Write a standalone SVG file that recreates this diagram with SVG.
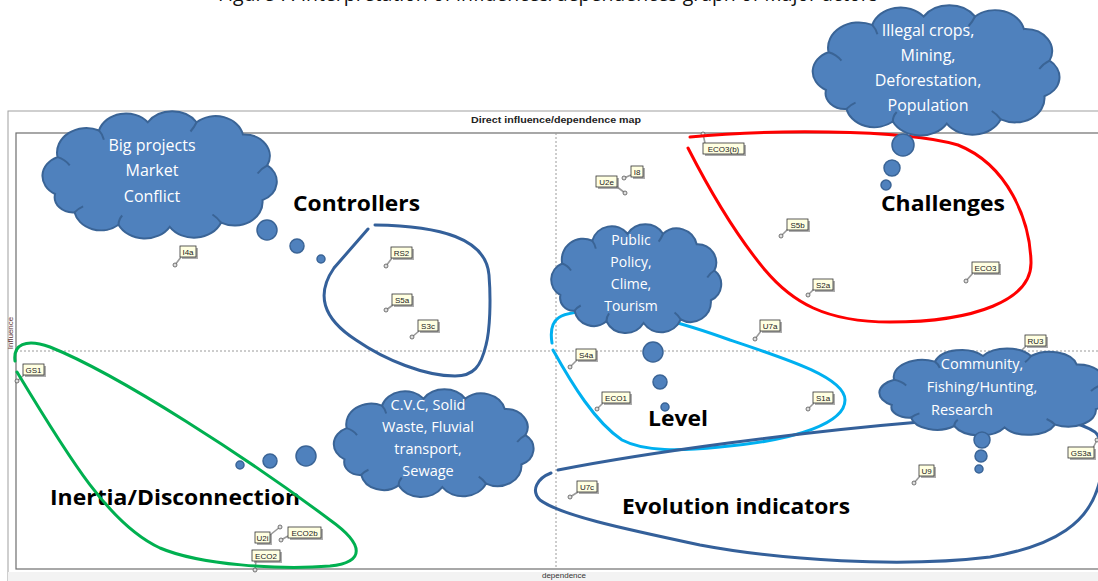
<svg xmlns="http://www.w3.org/2000/svg" xmlns:xlink="http://www.w3.org/1999/xlink" width="1098" height="581" viewBox="0 0 1098 581">
  <style>
    .cl { fill: #4F81BD; stroke: #3A6496; stroke-width: 2; vector-effect: non-scaling-stroke; }
    .cl-in { fill: none; stroke: #3A6496; stroke-width: 2; vector-effect: non-scaling-stroke; }
    .bub { fill: #4F81BD; stroke: #3A6496; stroke-width: 1.5; }
    .ct { fill: #ffffff; font-family: "Open Sans", "Liberation Sans", sans-serif; text-anchor: middle; }
    .big { fill: #000000; font-family: "Open Sans", "Liberation Sans", sans-serif; font-weight: bold; font-size: 21px; }
    .tagsh { fill: #8c8c8c; opacity: 0.7; }
    .tag { fill: #FFFFE1; stroke: #333333; stroke-width: 0.8; }
    .tt { fill: #222222; font-family: "Liberation Sans", Arial, sans-serif; font-size: 8px; text-anchor: middle; }
    .pin { stroke: #9a9a9a; stroke-width: 1.6; }
    .pt { fill: #dddddd; stroke: #555555; stroke-width: 0.8; }
    .loop { fill: none; stroke-width: 3; stroke-linecap: round; }
    .axis { stroke: #9a9a9a; stroke-width: 1; stroke-dasharray: 2 2; }
  </style>
  <defs>
    <symbol id="cloud" viewBox="0 0 200 120" preserveAspectRatio="none" overflow="visible">
      <path class="cl" d="M14,80 A20,20 0 0 1 16,44 A24,24 0 0 1 50,18 A23,23 0 0 1 90,10 A24,24 0 0 1 130,10 A23,23 0 0 1 168,22 A21,21 0 0 1 188,52 A20,20 0 0 1 184,86 A23,23 0 0 1 150,108 A24,24 0 0 1 108,112 A24,24 0 0 1 66,110 A22,22 0 0 1 30,98 A15,15 0 0 1 14,80 Z"/>
      <path class="cl-in" d="M16,44 Q22,46 26,52 M50,18 Q53,22 54,27 M130,10 Q128,15 125,19 M188,52 Q183,55 180,60 M150,108 Q147,103 143,100 M66,110 Q66,105 69,101 M30,98 Q33,94 37,92"/>
    </symbol>
  </defs>

  <!-- page background and caption line (runs off the top edge) -->
  <rect x="0" y="0" width="1098" height="581" fill="#ffffff"/>
  <text x="218" y="1" font-family="Open Sans, Liberation Sans, sans-serif" font-size="20" fill="#111" textLength="660" lengthAdjust="spacingAndGlyphs">Figure 7. Interpretation of influences/dependences graph of Major actors</text>

  <!-- chart frame -->
  <g id="frame">
    <rect x="8" y="111" width="1098" height="470" fill="#ffffff" stroke="#a0a0a0" stroke-width="1"/>
    <rect x="8" y="572" width="1090" height="9" fill="#f3f3f3"/>
    <text x="556" y="123" font-family="Liberation Sans, Arial, sans-serif" font-size="9" font-weight="bold" fill="#222" text-anchor="middle" textLength="170" lengthAdjust="spacingAndGlyphs">Direct influence/dependence map</text>
    <rect x="16" y="133" width="1090" height="436" fill="#ffffff" stroke="#6e6e6e" stroke-width="1.2"/>
    <line class="axis" x1="556" y1="133" x2="556" y2="569"/>
    <line class="axis" x1="16" y1="351" x2="1098" y2="351"/>
    <text x="564" y="578" font-family="Liberation Sans, Arial, sans-serif" font-size="8" fill="#333" text-anchor="middle">dependence</text>
    <text transform="translate(13,333) rotate(-90)" font-family="Liberation Sans, Arial, sans-serif" font-size="8" fill="#5a3030" text-anchor="middle">Influence</text>
  </g>

  <!-- quadrant titles -->
  <g id="titles">
    <text class="big" x="293" y="211" textLength="127" lengthAdjust="spacingAndGlyphs">Controllers</text>
    <text class="big" x="881" y="211" textLength="124" lengthAdjust="spacingAndGlyphs">Challenges</text>
    <text class="big" x="648" y="426" textLength="60" lengthAdjust="spacingAndGlyphs">Level</text>
    <text class="big" x="50" y="505" textLength="250" lengthAdjust="spacingAndGlyphs">Inertia/Disconnection</text>
    <text class="big" x="622" y="514" textLength="228" lengthAdjust="spacingAndGlyphs">Evolution indicators</text>
  </g>

  <!-- variables -->
  <g id="p-I4a"><line class="pin" x1="175" y1="265" x2="181" y2="257"/><circle class="pt" cx="175" cy="265" r="2"/><rect class="tagsh" x="182" y="248" width="16" height="11"/><rect class="tag" x="180" y="246" width="16" height="11"/><text class="tt" x="188" y="255">I4a</text></g>
  <g id="p-RS2"><line class="pin" x1="386" y1="266" x2="392" y2="258"/><circle class="pt" cx="386" cy="266" r="2"/><rect class="tagsh" x="393" y="249" width="21" height="11"/><rect class="tag" x="391" y="247" width="21" height="11"/><text class="tt" x="401.5" y="256">RS2</text></g>
  <g id="p-S5a"><line class="pin" x1="386" y1="310" x2="393" y2="305"/><circle class="pt" cx="386" cy="310" r="2"/><rect class="tagsh" x="394" y="296" width="20" height="11"/><rect class="tag" x="392" y="294" width="20" height="11"/><text class="tt" x="402" y="303">S5a</text></g>
  <g id="p-S3c"><line class="pin" x1="412" y1="337" x2="419" y2="331"/><circle class="pt" cx="412" cy="337" r="2"/><rect class="tagsh" x="420" y="322" width="20" height="11"/><rect class="tag" x="418" y="320" width="20" height="11"/><text class="tt" x="428" y="329">S3c</text></g>
  <g id="p-ECO3b"><line class="pin" x1="703" y1="134" x2="705" y2="143"/><circle class="pt" cx="703" cy="134" r="2"/><rect class="tagsh" x="705" y="145" width="41" height="11"/><rect class="tag" x="703" y="143" width="41" height="11"/><text class="tt" x="723.5" y="152">ECO3(b)</text></g>
  <g id="p-I8"><line class="pin" x1="624" y1="178" x2="631" y2="175"/><circle class="pt" cx="624" cy="178" r="2"/><rect class="tagsh" x="633" y="168" width="12" height="11"/><rect class="tag" x="631" y="166" width="12" height="11"/><text class="tt" x="637" y="175">I8</text></g>
  <g id="p-U2e"><line class="pin" x1="625" y1="193" x2="616" y2="186"/><circle class="pt" cx="625" cy="193" r="2"/><rect class="tagsh" x="598" y="178" width="21" height="11"/><rect class="tag" x="596" y="176" width="21" height="11"/><text class="tt" x="606.5" y="185">U2e</text></g>
  <g id="p-S5b"><line class="pin" x1="781" y1="236" x2="788" y2="229"/><circle class="pt" cx="781" cy="236" r="2"/><rect class="tagsh" x="789" y="221" width="21" height="11"/><rect class="tag" x="787" y="219" width="21" height="11"/><text class="tt" x="797.5" y="228">S5b</text></g>
  <g id="p-S2a"><line class="pin" x1="808" y1="295" x2="814" y2="289"/><circle class="pt" cx="808" cy="295" r="2"/><rect class="tagsh" x="815" y="281" width="20" height="11"/><rect class="tag" x="813" y="279" width="20" height="11"/><text class="tt" x="823" y="288">S2a</text></g>
  <g id="p-ECO3"><line class="pin" x1="966" y1="281" x2="973" y2="273"/><circle class="pt" cx="966" cy="281" r="2"/><rect class="tagsh" x="974" y="264" width="27" height="11"/><rect class="tag" x="972" y="262" width="27" height="11"/><text class="tt" x="985.5" y="271">ECO3</text></g>
  <g id="p-U7a"><line class="pin" x1="755" y1="339" x2="761" y2="331"/><circle class="pt" cx="755" cy="339" r="2"/><rect class="tagsh" x="762" y="322" width="20" height="11"/><rect class="tag" x="760" y="320" width="20" height="11"/><text class="tt" x="770" y="329">U7a</text></g>
  <g id="p-RU3"><line class="pin" x1="1020" y1="352" x2="1026" y2="346"/><circle class="pt" cx="1020" cy="352" r="2"/><rect class="tagsh" x="1027" y="337" width="21" height="11"/><rect class="tag" x="1025" y="335" width="21" height="11"/><text class="tt" x="1035.5" y="344">RU3</text></g>
  <g id="p-S4a"><line class="pin" x1="570" y1="367" x2="577" y2="360"/><circle class="pt" cx="570" cy="367" r="2"/><rect class="tagsh" x="578" y="351" width="20" height="11"/><rect class="tag" x="576" y="349" width="20" height="11"/><text class="tt" x="586" y="358">S4a</text></g>
  <g id="p-ECO1"><line class="pin" x1="597" y1="409" x2="603" y2="403"/><circle class="pt" cx="597" cy="409" r="2"/><rect class="tagsh" x="604" y="394" width="28" height="11"/><rect class="tag" x="602" y="392" width="28" height="11"/><text class="tt" x="616" y="401">ECO1</text></g>
  <g id="p-S1a"><line class="pin" x1="808" y1="409" x2="814" y2="403"/><circle class="pt" cx="808" cy="409" r="2"/><rect class="tagsh" x="815" y="394" width="20" height="11"/><rect class="tag" x="813" y="392" width="20" height="11"/><text class="tt" x="823" y="401">S1a</text></g>
  <g id="p-GS1"><line class="pin" x1="17" y1="381" x2="24" y2="375"/><circle class="pt" cx="17" cy="381" r="2"/><rect class="tagsh" x="25" y="366" width="21" height="11"/><rect class="tag" x="23" y="364" width="21" height="11"/><text class="tt" x="33.5" y="373">GS1</text></g>
  <g id="p-U7c"><line class="pin" x1="570" y1="497" x2="578" y2="492"/><circle class="pt" cx="570" cy="497" r="2"/><rect class="tagsh" x="579" y="483" width="20" height="11"/><rect class="tag" x="577" y="481" width="20" height="11"/><text class="tt" x="587" y="490">U7c</text></g>
  <g id="p-U9"><line class="pin" x1="914" y1="483" x2="920" y2="476"/><circle class="pt" cx="914" cy="483" r="2"/><rect class="tagsh" x="921" y="467" width="15" height="11"/><rect class="tag" x="919" y="465" width="15" height="11"/><text class="tt" x="926.5" y="474">U9</text></g>
  <g id="p-GS3a"><line class="pin" x1="1097" y1="440" x2="1093" y2="448"/><circle class="pt" cx="1097" cy="440" r="2"/><rect class="tagsh" x="1070" y="449" width="26" height="11"/><rect class="tag" x="1068" y="447" width="26" height="11"/><text class="tt" x="1081" y="456">GS3a</text></g>
  <g id="p-U2i"><line class="pin" x1="280" y1="527" x2="270" y2="535"/><circle class="pt" cx="280" cy="527" r="2"/><rect class="tagsh" x="257" y="534" width="15" height="11"/><rect class="tag" x="255" y="532" width="15" height="11"/><text class="tt" x="262.5" y="541">U2i</text></g>
  <g id="p-ECO2b"><line class="pin" x1="281" y1="540" x2="288" y2="536"/><circle class="pt" cx="281" cy="540" r="2"/><rect class="tagsh" x="290" y="529" width="33" height="11"/><rect class="tag" x="288" y="527" width="33" height="11"/><text class="tt" x="304.5" y="536">ECO2b</text></g>
  <g id="p-ECO2"><line class="pin" x1="255" y1="570" x2="256" y2="561"/><circle class="pt" cx="255" cy="570" r="2"/><rect class="tagsh" x="254" y="552" width="28" height="11"/><rect class="tag" x="252" y="550" width="28" height="11"/><text class="tt" x="266" y="559">ECO2</text></g>

  <!-- cluster outlines -->
  <g id="connectors">
    <path id="loop-controllers" class="loop" stroke="#34609A" d="M375,225 C440,226 486,238 489,275 C491,300 490,330 486,345 C481,366 474,376 455,376 C425,376 385,360 356,340 C322,318 316,294 334,268 L368,229"/>
    <path id="loop-challenges" class="loop" stroke="#FF0000" d="M690,137 C760,130 900,128 958,145 C1008,165 1030,220 1031,262 C1032,300 975,322 890,322 C825,322 792,302 765,270 C740,240 712,195 688,148"/>
    <path id="loop-level" class="loop" stroke="#00B0F0" d="M552,343 C548,318 558,311 600,311 C640,311 680,322 730,340 C790,360 845,378 845,400 C845,422 800,440 720,447 C680,451 645,452 622,440 C595,422 572,384 553,350"/>
    <path id="loop-evolution" class="loop" stroke="#34609A" d="M558,470 C650,452 800,432 920,422 C1000,416 1065,412 1095,432 C1106,442 1104,470 1097,490 C1087,520 1060,545 990,557 C900,568 780,560 700,545 C620,528 560,515 540,500 C530,490 538,478 551,473"/>
    <path id="loop-inertia" class="loop" stroke="#00B050" d="M15,361 C13,345 25,338 50,347 C120,375 250,460 330,520 C365,545 365,562 330,566 C280,570 200,565 160,548 C110,525 70,460 17,372"/>
  </g>

  <!-- idea clouds -->
  <g id="cloud-big-projects">
    <use xlink:href="#cloud" href="#cloud" x="38" y="112" width="244" height="123"/>
    <text class="ct" font-size="16"><tspan x="152" y="151">Big projects</tspan><tspan x="152" y="176">Market</tspan><tspan x="152" y="202">Conflict</tspan></text>
    <circle class="bub" cx="267" cy="230" r="10"/><circle class="bub" cx="297" cy="246" r="7"/><circle class="bub" cx="321" cy="259" r="4"/>
  </g>
  <g id="cloud-illegal-crops">
    <use xlink:href="#cloud" href="#cloud" x="808" y="6" width="257" height="126"/>
    <text class="ct" font-size="16"><tspan x="928" y="36">Illegal crops,</tspan><tspan x="928" y="61">Mining,</tspan><tspan x="928" y="86">Deforestation,</tspan><tspan x="928" y="111">Population</tspan></text>
    <circle class="bub" cx="903" cy="145" r="11"/><circle class="bub" cx="892" cy="168" r="8"/><circle class="bub" cx="886" cy="185" r="5"/>
  </g>
  <g id="cloud-public-policy">
    <use xlink:href="#cloud" href="#cloud" x="548" y="225" width="177" height="105"/>
    <text class="ct" font-size="14"><tspan x="631" y="245">Public</tspan><tspan x="631" y="267">Policy,</tspan><tspan x="631" y="289">Clime,</tspan><tspan x="631" y="311">Tourism</tspan></text>
    <circle class="bub" cx="653" cy="352" r="10"/><circle class="bub" cx="660" cy="382" r="7"/><circle class="bub" cx="665" cy="407" r="4"/>
  </g>
  <g id="cloud-cvc">
    <use xlink:href="#cloud" href="#cloud" x="330" y="390" width="208" height="104"/>
    <text class="ct" font-size="14.5"><tspan x="428" y="410">C.V.C, Solid</tspan><tspan x="428" y="432">Waste,  Fluvial</tspan><tspan x="428" y="454">transport,</tspan><tspan x="428" y="476">Sewage</tspan></text>
    <circle class="bub" cx="306" cy="456" r="10"/><circle class="bub" cx="270" cy="461" r="7"/><circle class="bub" cx="240" cy="465" r="4"/>
  </g>
  <g id="cloud-community">
    <use xlink:href="#cloud" href="#cloud" x="875" y="349" width="240" height="84"/>
    <text class="ct" font-size="14.5"><tspan x="982" y="369">Community,</tspan><tspan x="982" y="392">Fishing/Hunting,</tspan><tspan x="962" y="415">Research</tspan></text>
    <circle class="bub" cx="982" cy="440" r="8"/><circle class="bub" cx="981" cy="456" r="6"/><circle class="bub" cx="979" cy="469" r="4"/>
  </g>
</svg>
